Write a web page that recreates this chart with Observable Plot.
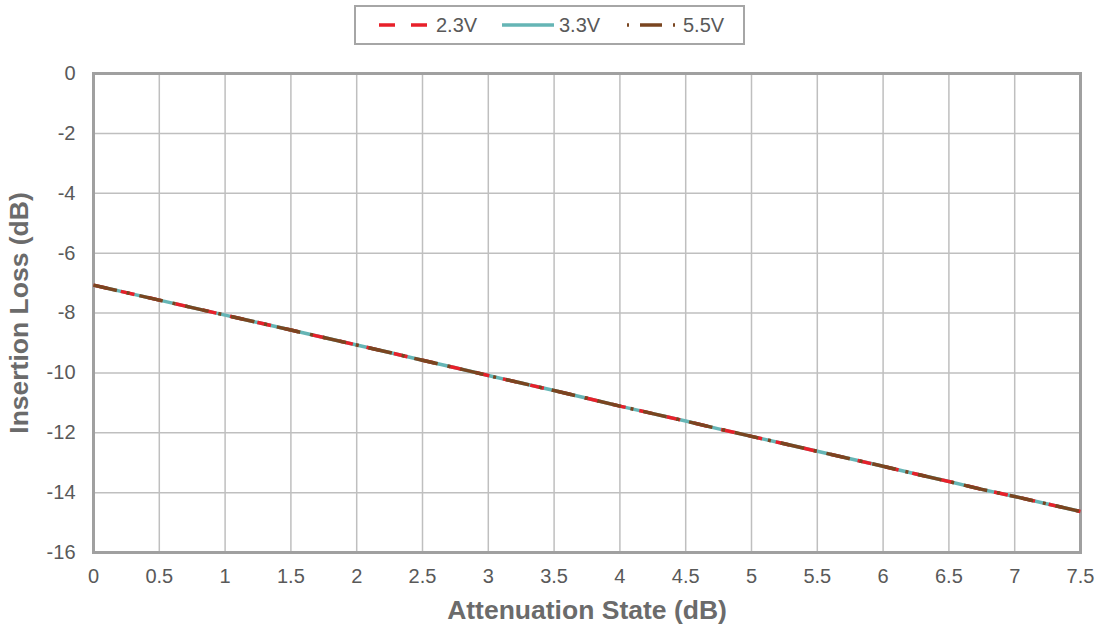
<!DOCTYPE html>
<html>
<head>
<meta charset="utf-8">
<script src="https://cdn.jsdelivr.net/npm/d3@7"></script>
<script src="https://cdn.jsdelivr.net/npm/@observablehq/plot@0.6"></script>
<style>
  html, body { margin: 0; padding: 0; background: #fff; }
  body { width: 1102px; height: 633px; overflow: hidden; font-family: "Liberation Sans", Arial, sans-serif; }
  #legend { height: 50px; position: relative; }
  #legend .box { position: absolute; left: 354px; top: 5px; width: 391px; height: 40px; border: 2px solid #a6a6a6; box-sizing: border-box; }
  #legend .item { position: absolute; top: 0; height: 36px; display: flex; align-items: center; font-size: 20px; color: #595959; }
  #legend svg { display: block; }
</style>
</head>
<body>
<div id="legend"></div>
<div id="chart"></div>
<script>
const states = [0, 0.25, 0.5, 0.75, 1, 1.25, 1.5, 1.75, 2, 2.25, 2.5, 2.75, 3, 3.25, 3.5, 3.75, 4, 4.25, 4.5, 4.75, 5, 5.25, 5.5, 5.75, 6, 6.25, 6.5, 6.75, 7, 7.25, 7.5];
const loss23 = [-7.07, -7.32, -7.57, -7.82, -8.07, -8.32, -8.57, -8.82, -9.07, -9.32, -9.58, -9.83, -10.09, -10.34, -10.59, -10.85, -11.11, -11.36, -11.61, -11.87, -12.12, -12.37, -12.62, -12.87, -13.12, -13.38, -13.63, -13.89, -14.13, -14.38, -14.63];
const loss33 = [-7.07, -7.32, -7.57, -7.82, -8.07, -8.32, -8.57, -8.82, -9.07, -9.32, -9.58, -9.83, -10.09, -10.34, -10.59, -10.85, -11.11, -11.36, -11.61, -11.87, -12.12, -12.37, -12.62, -12.87, -13.12, -13.38, -13.63, -13.89, -14.13, -14.38, -14.63];
const loss55 = [-7.07, -7.32, -7.57, -7.82, -8.07, -8.32, -8.57, -8.82, -9.07, -9.32, -9.58, -9.83, -10.09, -10.34, -10.59, -10.85, -11.11, -11.36, -11.61, -11.87, -12.12, -12.37, -12.62, -12.87, -13.12, -13.38, -13.63, -13.89, -14.13, -14.38, -14.63];
const seriesNames = ["2.3V", "3.3V", "5.5V"];
const xTicks = [0, 0.5, 1, 1.5, 2, 2.5, 3, 3.5, 4, 4.5, 5, 5.5, 6, 6.5, 7, 7.5];
const yTicks = [0, -2, -4, -6, -8, -10, -12, -14, -16];
const xTitle = "Attenuation State (dB)";
const yTitle = "Insertion Loss (dB)";

const styles = {
  "2.3V": {stroke: "#e8202a", dash: "14,14", legendDash: "16,16"},
  "3.3V": {stroke: "#65b5b5", dash: null, legendDash: null},
  "5.5V": {stroke: "#7a4520", dash: "24,10,3,10", legendDash: "2,11,22,11,2"}
};

const rows = (name, arr) => states.map((s, i) => ({state: s, loss: arr[i], series: name}));
const d23 = rows("2.3V", loss23);
const d33 = rows("3.3V", loss33);
const d55 = rows("5.5V", loss55);

const lineMark = (data, name) => Plot.line(data, {
  x: "state", y: "loss",
  stroke: styles[name].stroke,
  strokeWidth: 3.5,
  strokeDasharray: styles[name].dash || undefined,
  strokeLinecap: "butt"
});

const chart = Plot.plot({
  width: 1102,
  height: 583,
  marginTop: 23,
  marginBottom: 81,
  marginLeft: 93,
  marginRight: 22,
  style: {fontFamily: "'Liberation Sans', Arial, sans-serif", fontSize: "20px", color: "#595959", background: "#fff"},
  x: {domain: [0, 7.5]},
  y: {domain: [-16, 0]},
  marks: [
    Plot.gridX(xTicks, {stroke: "#bfbfbf", strokeOpacity: 1, strokeWidth: 1.5}),
    Plot.gridY(yTicks, {stroke: "#bfbfbf", strokeOpacity: 1, strokeWidth: 1.5}),
    Plot.axisX(xTicks, {tickSize: 0, tickPadding: 16, tickFormat: d => String(d), fill: "#595959", fontSize: 20, label: null}),
    Plot.axisY(yTicks, {tickSize: 0, tickPadding: 18, tickFormat: d => String(d), fill: "#595959", fontSize: 20, label: null}),
    Plot.axisX([], {label: xTitle, labelAnchor: "center", labelArrow: "none", labelOffset: 66, fontSize: 26.5, fontWeight: "bold", fill: "#6b6b6b", tickSize: 0}),
    Plot.axisY([], {label: yTitle, labelAnchor: "center", labelArrow: "none", labelOffset: 84, fontSize: 26.5, fontWeight: "bold", fill: "#6b6b6b", tickSize: 0}),
    Plot.frame({stroke: "#a0a0a0", strokeWidth: 3}),
    lineMark(d33, "3.3V"),
    lineMark(d23, "2.3V"),
    lineMark(d55, "5.5V")
  ]
});
document.getElementById("chart").appendChild(chart);

// Legend
const legend = document.getElementById("legend");
const box = document.createElement("div");
box.className = "box";
legend.appendChild(box);
const positions = [{sw: 23, w: 48, tx: 80}, {sw: 146, w: 52, tx: 203}, {sw: 271, w: 48, tx: 327}];
seriesNames.forEach((name, i) => {
  const item = document.createElement("div");
  item.className = "item";
  item.style.left = positions[i].sw + "px";
  const sw = d3.create("svg").attr("width", positions[i].tx - positions[i].sw).attr("height", 10);
  sw.append("line").attr("x1", 0).attr("x2", positions[i].w).attr("y1", 5).attr("y2", 5)
    .attr("stroke", styles[name].stroke).attr("stroke-width", 3.5)
    .attr("stroke-dasharray", styles[name].legendDash);
  item.appendChild(sw.node());
  const t = document.createElement("span");
  t.textContent = name;
  item.appendChild(t);
  box.appendChild(item);
});
</script>
</body>
</html>
